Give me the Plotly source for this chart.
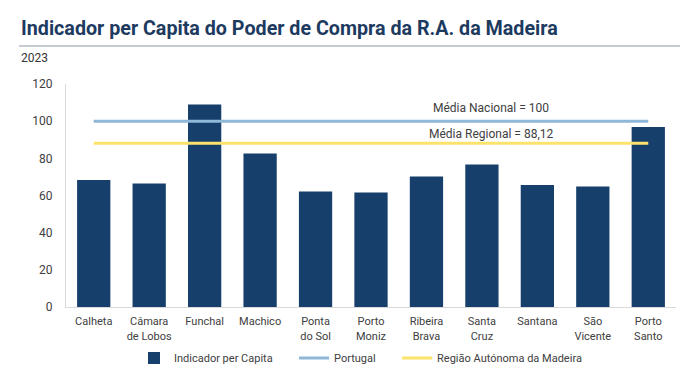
import plotly.graph_objects as go

categories = ["Calheta", "Câmara<br>de Lobos", "Funchal", "Machico", "Ponta<br>do Sol",
              "Porto<br>Moniz", "Ribeira<br>Brava", "Santa<br>Cruz", "Santana",
              "São<br>Vicente", "Porto<br>Santo"]
indicador = [68.3, 66.5, 109.0, 82.6, 62.2, 61.6, 70.2, 76.7, 65.7, 64.9, 96.9]
portugal = [100] * len(categories)
madeira = [88.12] * len(categories)

NAVY = "#173f6c"
BLUE = "#8fb8d8"
YELLOW = "#fde36b"
TXT = "#404040"
PAD = "\u00a0" * 6

fig = go.Figure()
fig.add_trace(go.Bar(x=categories, y=indicador, name="Indicador per Capita" + PAD,
                     marker=dict(color=NAVY, line=dict(width=0))))
fig.add_trace(go.Scatter(x=categories, y=portugal, name="Portugal" + PAD, mode="lines",
                         line=dict(color=BLUE, width=3)))
fig.add_trace(go.Scatter(x=categories, y=madeira, name="Região Autónoma da Madeira",
                         mode="lines", line=dict(color=YELLOW, width=3)))

fig.update_layout(
    width=700, height=370,
    margin=dict(l=58, r=32, t=76, b=71, autoexpand=False),
    paper_bgcolor="white", plot_bgcolor="white",
    font=dict(family="Roboto", size=11, color=TXT),
    bargap=0.4,
    showlegend=True,
    legend=dict(orientation="h", x=(134-66)/610, xanchor="left", y=(307-358)/223,
                yanchor="middle", font=dict(size=11, color=TXT), itemwidth=30,
                traceorder="normal", bgcolor="rgba(0,0,0,0)"),
    xaxis=dict(showgrid=False, showline=True, linecolor="#d9d9d9", linewidth=1,
               ticks="", ticklabelstandoff=4, tickfont=dict(size=11, color=TXT),
               fixedrange=True),
    yaxis=dict(range=[0, 120], dtick=20, showgrid=False, showline=True,
               linecolor="#d9d9d9", linewidth=1, ticks="", zeroline=False,
               ticklabelstandoff=10, tickfont=dict(size=12, color=TXT)),
)

fig.add_annotation(text="<b>Indicador per Capita do Poder de Compra da R.A. da Madeira</b>",
                   xref="paper", yref="paper", x=(19-66)/610, y=(307-29)/223,
                   xanchor="left", yanchor="middle", showarrow=False,
                   font=dict(family="Roboto", size=19.7, color="#1d3a5f"))
fig.add_shape(type="line", xref="paper", yref="paper",
              x0=(19-66)/610, x1=(680-66)/610, y0=(307-46)/223, y1=(307-46)/223,
              line=dict(color="#8a96a3", width=1))
fig.add_annotation(text="2023", xref="paper", yref="paper",
                   x=(19-66)/610, y=(307-58)/223, xanchor="left", yanchor="middle",
                   showarrow=False, font=dict(size=12, color="#333333"))
fig.add_annotation(text="Média Nacional = 100", xref="paper", yref="y",
                   x=(491-66)/610, xanchor="center", y=100, yshift=13, showarrow=False,
                   font=dict(size=12, color=TXT))
fig.add_annotation(text="Média Regional = 88,12", xref="paper", yref="y",
                   x=(491-66)/610, xanchor="center", y=88.12, yshift=9, showarrow=False,
                   font=dict(size=12, color=TXT))

fig.write_html("out.html")
